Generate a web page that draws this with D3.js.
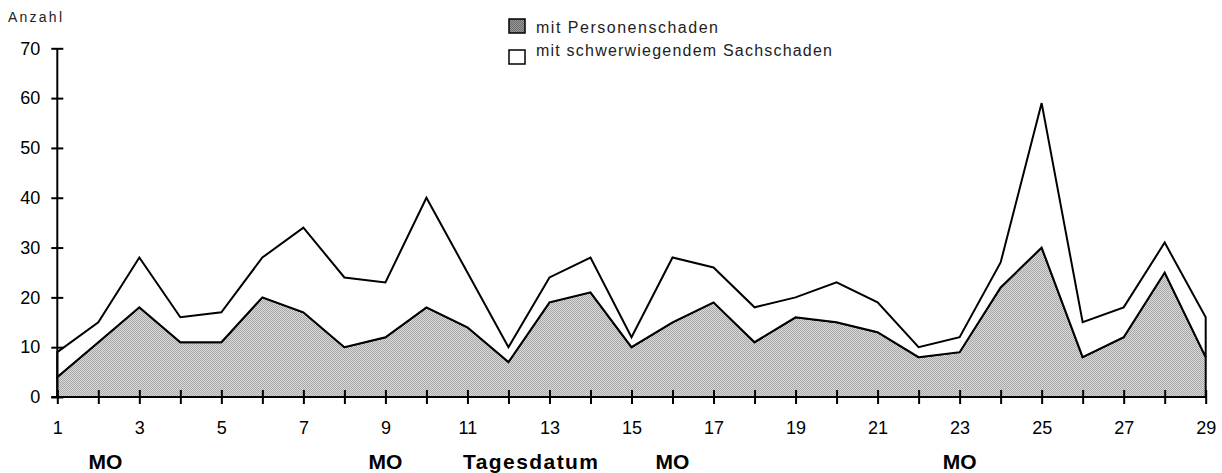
<!DOCTYPE html>
<html>
<head>
<meta charset="utf-8">
<script src="https://cdn.jsdelivr.net/npm/d3@7"></script>
<style>
  html, body { margin: 0; padding: 0; background: #fff; }
  svg { display: block; }
  text { font-family: "Liberation Sans", Arial, sans-serif; }
</style>
</head>
<body>
<svg id="chart" width="1222" height="473"></svg>
<script>
// Data
const days = d3.range(1, 30);
const personen = [4, 11, 18, 11, 11, 20, 17, 10, 12, 18, 14, 7, 19, 21, 10, 15, 19, 11, 16, 15, 13, 8, 9, 22, 30, 8, 12, 25, 8];
const sach     = [5, 4, 10, 5, 6, 8, 17, 14, 11, 22, 11, 3, 5, 7, 2, 13, 7, 7, 4, 8, 6, 2, 3, 5, 29, 7, 6, 6, 8];
const yTicks = [0, 10, 20, 30, 40, 50, 60, 70];
const xLabelDays = d3.range(1, 30, 2);
const mondays = [2, 9, 16, 23];
const seriesNames = ["mit Personenschaden", "mit schwerwiegendem Sachschaden"];

const svg = d3.select("#chart");

const defs = svg.append("defs");
const pat = defs.append("pattern").attr("id", "dots").attr("width", 2).attr("height", 2)
  .attr("patternUnits", "userSpaceOnUse");
pat.append("rect").attr("width", 2).attr("height", 2).attr("fill", "#d9d9d9");
pat.append("rect").attr("x", 0).attr("y", 0).attr("width", 1).attr("height", 1).attr("fill", "#a8a8a8");
pat.append("rect").attr("x", 1).attr("y", 1).attr("width", 1).attr("height", 1).attr("fill", "#a8a8a8");
const pat2 = defs.append("pattern").attr("id", "dots2").attr("width", 2).attr("height", 2)
  .attr("patternUnits", "userSpaceOnUse");
pat2.append("rect").attr("width", 2).attr("height", 2).attr("fill", "#9a9a9a");
pat2.append("rect").attr("x", 0).attr("y", 0).attr("width", 1).attr("height", 1).attr("fill", "#6a6a6a");
pat2.append("rect").attr("x", 1).attr("y", 1).attr("width", 1).attr("height", 1).attr("fill", "#6a6a6a");

const x = d3.scaleLinear().domain([1, 29]).range([57.3, 1205.7]);
const y = d3.scaleLinear().domain([0, 70]).range([397, 48.3]);

const table = days.map((d, i) => ({ day: d, personen: personen[i], sach: sach[i] }));
const stack = d3.stack().keys(["personen", "sach"]);
const stacked = stack(table);

const area = d3.area()
  .x(d => x(d.data.day))
  .y0(d => y(d[0]))
  .y1(d => y(d[1]));

svg.append("g").selectAll("path").data(stacked).join("path")
  .attr("d", area)
  .attr("fill", (d, i) => i === 0 ? "url(#dots)" : "#fff")
  .attr("stroke", "#000")
  .attr("stroke-width", 2)
  .attr("stroke-linejoin", "miter");

// Y axis
const yAxis = d3.axisLeft(y).tickValues(yTicks).tickSize(6).tickPadding(12);
const gy = svg.append("g").attr("transform", `translate(${x(1)},0)`).call(yAxis);
gy.select(".domain").attr("stroke-width", 2).attr("d", `M0,${y(0)}V${y(70)}`);
gy.selectAll(".tick line").attr("x1", -6).attr("x2", 6).attr("stroke-width", 2);
gy.selectAll(".tick text").attr("font-size", 18).attr("fill", "#000")
  .attr("font-family", "Liberation Sans, Arial, sans-serif").attr("x", -17);

// X axis
const xAxis = d3.axisBottom(x).tickValues(days).tickSize(7)
  .tickFormat(d => xLabelDays.includes(d) ? d : "");
const gx = svg.append("g").attr("transform", `translate(0,${y(0)})`).call(xAxis);
gx.select(".domain").attr("stroke-width", 2).attr("d", `M${x(1) - 6},0H${x(29)}`);
gx.selectAll(".tick line").attr("y1", -7).attr("y2", 7).attr("stroke-width", 2);
gx.selectAll(".tick text").attr("font-size", 18).attr("fill", "#000")
  .attr("font-family", "Liberation Sans, Arial, sans-serif").attr("y", 24);

// MO labels
svg.append("g").selectAll("text").data(mondays).join("text")
  .attr("x", d => x(d) + (d === 2 ? 7 : 0))
  .attr("y", 469)
  .attr("text-anchor", "middle")
  .attr("font-size", 21)
  .attr("font-weight", "bold")
  .text("MO");

svg.append("text")
  .attr("x", 463).attr("y", 469)
  .attr("font-size", 21).attr("font-weight", "bold")
  .attr("textLength", 135)
  .attr("lengthAdjust", "spacing")
  .text("Tagesdatum");

// Y title
svg.append("text").attr("x", 8).attr("y", 22).attr("font-size", 14).attr("fill", "#222")
  .attr("textLength", 54).attr("lengthAdjust", "spacing")
  .text("Anzahl");

// Legend
const lg = svg.append("g");
const lgItems = [
  { name: seriesNames[0], fill: "url(#dots2)", by: 19, ty: 33, w: 182 },
  { name: seriesNames[1], fill: "#fff", by: 50, ty: 56, w: 296 }
];
lg.selectAll("rect").data(lgItems).join("rect")
  .attr("x", 509).attr("y", d => d.by).attr("width", 16).attr("height", 14)
  .attr("fill", d => d.fill).attr("stroke", "#000").attr("stroke-width", 1.5);
lg.selectAll("text").data(lgItems).join("text")
  .attr("x", 536).attr("y", d => d.ty)
  .attr("font-size", 16).attr("fill", "#222")
  .attr("textLength", d => d.w).attr("lengthAdjust", "spacing")
  .text(d => d.name);
</script>
</body>
</html>
